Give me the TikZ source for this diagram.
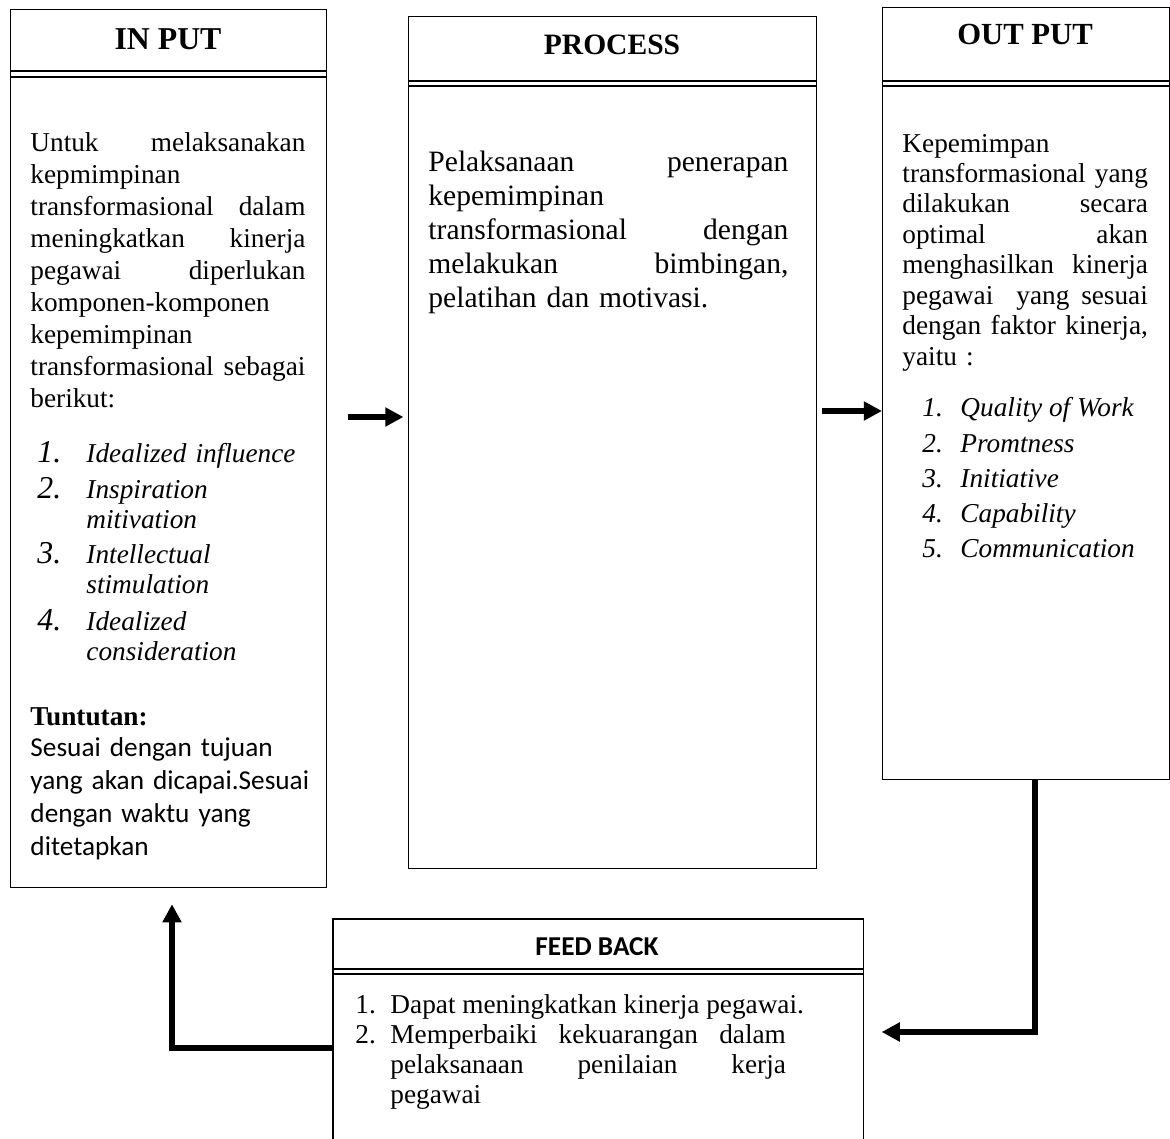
\documentclass[tikz,border=0pt]{standalone}
\usepackage{fontspec}
\setmainfont{Liberation Serif}
\newfontfamily\fbfont{Carlito}
\usetikzlibrary{arrows.meta, positioning}

\begin{document}
\begin{tikzpicture}[x=0.44pt, y=-0.44pt,
  panel/.style={draw, line width=0.6pt, rectangle, anchor=north west, inner sep=0pt},
  hdr/.style={font=\fontsize{14}{16}\selectfont\bfseries},
  body/.style={anchor=base west, inner sep=0pt, align=left, font=\fontsize{12}{14.1}\selectfont},
  flow/.style={line width=2.5pt, -{Triangle[length=8pt, width=8pt]}},
  lineA/.style={line width=0.9pt},
  lineB/.style={line width=0.6pt}]

\useasboundingbox (0,0) rectangle (1170,1139);

% boxes
\node[panel, minimum width=139pt, minimum height=386.3pt] (input) at (10,9) {};
\node[panel, minimum width=179.5pt, minimum height=374.9pt] (process) at (408,16) {};
\node[panel, minimum width=126.3pt, minimum height=339.7pt] (output) at (882,7) {};
\node[panel, draw=none, minimum width=232.8pt, minimum height=96.8pt] (feedback) at (333,919) {};
\draw[line width=0.6pt] (feedback.south west) -- (feedback.north west) -- (feedback.north east) -- (feedback.south east);

% double lines under the headings
\foreach \b/\ya/\yb in {input/71/77, process/81/86, output/81/86, feedback/969/974} {
  \draw[lineA] (\b.west |- 0,\ya) -- (\b.east |- 0,\ya);
  \draw[lineB] (\b.west |- 0,\yb) -- (\b.east |- 0,\yb);
}

% headings
\node[hdr] (intitle) at (168,39) {IN PUT};
\node[hdr, font=\fontsize{13}{15}\selectfont\bfseries] (proctitle) at (612,45) {PROCESS};
\node[hdr, font=\fontsize{13.5}{15}\selectfont\bfseries] (outtitle) at (1025,34) {OUT PUT};
\node[font=\fbfont\fontsize{12}{14}\selectfont\bfseries] (fbtitle) at (597,947) {FEED BACK};

% input
\node[body, text width=121pt] (intext) at (30,151) {Untuk\hfill melaksanakan\\ kepmimpinan\\ transformasional\hfill dalam\\ meningkatkan\hfill kinerja\\ pegawai\hfill diperlukan\\ komponen-komponen\\ kepemimpinan\\ transformasional\hfill sebagai\\ berikut:};
\foreach \n/\y/\t in {1/462/{Idealized influence}, 2/498/{Inspiration\\ mitivation}, 3/563/{Intellectual\\ stimulation}, 4/630/{Idealized\\ consideration}} {
  \node[body, font=\fontsize{14}{16}\selectfont\itshape] (innum\n) at (37,\y) {\n.};
  \node[body, text width=100pt, font=\fontsize{12}{13.2}\selectfont\itshape] (initem\n) at (86,\y) {\t};
}
\node[body, font=\fontsize{12}{14}\selectfont\bfseries] (intunt) at (30,725) {Tuntutan:};
\node[body, text width=125pt, font=\fbfont\fontsize{12}{14.6}\selectfont] (insesuai) at (30,756) {Sesuai dengan tujuan\\ yang akan dicapai.Sesuai\\ dengan waktu yang\\ ditetapkan};

% process
\node[body, text width=158.4pt, font=\fontsize{13}{15}\selectfont] (proctext) at (428,171) {Pelaksanaan\hfill penerapan\\ kepemimpinan\\ transformasional\hfill dengan\\ melakukan\hfill bimbingan,\\ pelatihan dan motivasi.};

% output
\node[body, text width=108pt, font=\fontsize{12}{13.4}\selectfont] (outtext) at (902,152) {Kepemimpan\\ transformasional\hfill yang\\ dilakukan\hfill secara\\ optimal\hfill akan\\ menghasilkan\hfill kinerja\\ pegawai\hspace{5pt}\hfill yang\hfill sesuai\\ dengan\hfill faktor\hfill kinerja,\\ yaitu :};
\foreach \n/\y/\t in {1/416/Quality of Work, 2/452/Promtness, 3/487/Initiative, 4/522/Capability, 5/557/Communication} {
  \node[body, font=\fontsize{12}{14}\selectfont\itshape] (outnum\n) at (922,\y) {\n.};
  \node[body, font=\fontsize{12}{14}\selectfont\itshape] (outitem\n) at (960,\y) {\t};
}

% feed back
\node[body] (fbnum1) at (355,1013) {1.};
\node[body] (fbitem1) at (390,1013) {Dapat meningkatkan kinerja pegawai.};
\node[body] (fbnum2) at (355,1043) {2.};
\node[body, text width=174pt, font=\fontsize{12}{13.2}\selectfont] (fbitem2) at (390,1043) {Memperbaiki\hfill kekuarangan\hfill dalam\\ pelaksanaan\hfill penilaian\hfill kerja\\ pegawai};

% arrows
\coordinate (ya) at (0,417);
\coordinate (yb) at (0,411);
\coordinate (yc) at (0,1032);
\coordinate (yd) at (0,1048);
\coordinate (xr) at (1035,0);
\coordinate (xl) at (172,0);
\draw[flow, shorten <=9pt, shorten >=2pt] (input.east |- ya) -- (process.west |- ya);
\draw[flow, shorten <=2pt] (process.east |- yb) -- (output.west |- yb);
\draw[flow, shorten >=8pt] (output.south -| xr) |- (feedback.east |- yc);
\draw[flow, shorten >=7pt] (feedback.west |- yd) -| (input.south -| xl);

\end{tikzpicture}
\end{document}
